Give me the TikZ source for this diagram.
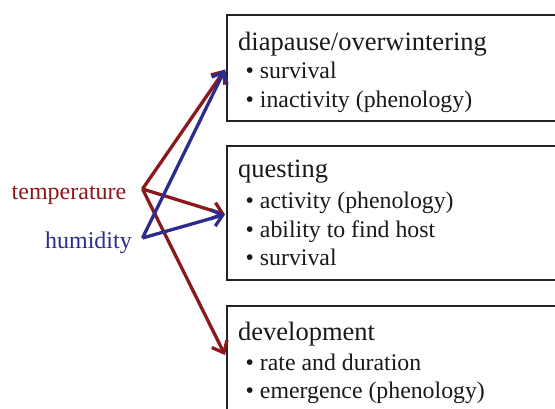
\documentclass[tikz,border=0pt]{standalone}
\usepackage{fontspec}
\setmainfont{Liberation Serif}
\usetikzlibrary{arrows.meta}
\definecolor{tempred}{RGB}{140,24,30}
\definecolor{humblue}{RGB}{44,44,140}
\definecolor{boxline}{RGB}{35,35,35}
\tikzset{
  stagebox/.style={draw=boxline, line width=2pt, rectangle, anchor=north west, inner sep=0pt},
  stagetitle/.style={anchor=base west, inner sep=0pt, font=\fontsize{26.5}{30}\selectfont, text=black!90},
  stageitem/.style={anchor=base west, inner sep=0pt, font=\fontsize{23.8}{28}\selectfont, text=black!90},
  factor/.style={anchor=base east, inner sep=0pt, font=\fontsize{24}{28}\selectfont},
  effect/.style={line width=3.3pt, -{Straight Barb[length=10pt,width=17pt,line width=3.3pt]}},
}
\begin{document}
\begin{tikzpicture}[x=1pt,y=-1pt]
\useasboundingbox (0,0) rectangle (555,408);
% boxes
\node[stagebox, minimum width=336pt, minimum height=106pt] (box1) at (226,14) {};
\node[stagebox, minimum width=336pt, minimum height=134pt] (box2) at (226,145) {};
\node[stagebox, minimum width=336pt, minimum height=110pt] (box3) at (226,305) {};
% box 1 text
\node[stagetitle] (t1) at (238,50) {diapause/overwintering};
\node[stageitem] (i11) at (245.5,78.5) {\textbullet\ survival};
\node[stageitem] (i12) at (245.5,107) {\textbullet\ inactivity (phenology)};
% box 2 text
\node[stagetitle] (t2) at (238,177) {questing};
\node[stageitem] (i21) at (245.5,208.5) {\textbullet\ activity (phenology)};
\node[stageitem] (i22) at (245.5,237.5) {\textbullet\ ability to find host};
\node[stageitem] (i23) at (245.5,265.5) {\textbullet\ survival};
% box 3 text
\node[stagetitle] (t3) at (238,340.5) {development};
\node[stageitem] (i31) at (245.5,370) {\textbullet\ rate and duration};
\node[stageitem] (i32) at (245.5,398) {\textbullet\ emergence (phenology)};
% factors
\node[factor, text=tempred] (temp) at (126.5,199.5) {temperature};
\node[factor, text=humblue] (hum) at (132,248.5) {humidity};
\coordinate (tv) at (142.5,189);
\coordinate (hv) at (142.5,238);
\coordinate (e1) at (225,69.5);
\coordinate (e2) at (225,214.5);
\coordinate (e3) at (225,355);
% connectors
\draw[effect, draw=tempred] (tv) -- (e1);
\draw[effect, draw=tempred] (tv) -- (e2);
\draw[effect, draw=tempred] (tv) -- (e3);
\draw[effect, draw=humblue] (hv) -- (e1);
\draw[effect, draw=humblue] (hv) -- (e2);
\end{tikzpicture}
\end{document}
